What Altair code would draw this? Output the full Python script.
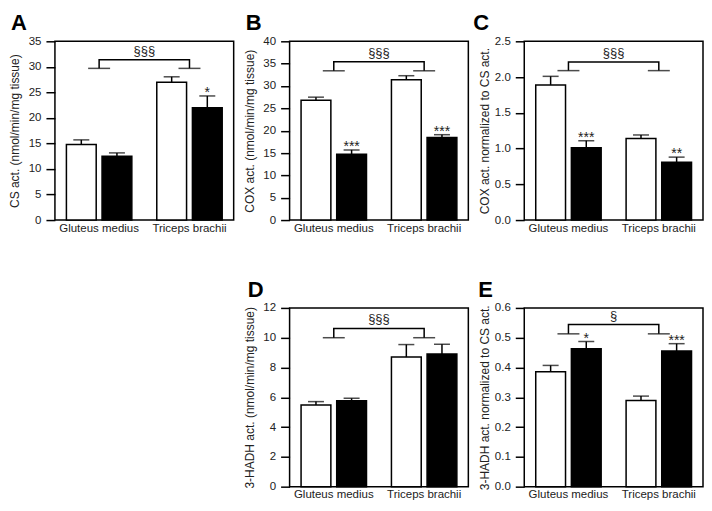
import altair as alt
import pandas as pd

# ---------------- data ----------------
MUSCLES = ["Gluteus medius", "Triceps brachii"]
GROUPS = ["Group 1", "Group 2"]          # open bars, filled bars

LETTERS = ["A", "B", "C", "D", "E"]
Y_TITLES = [
    "CS act. (nmol/min/mg tissue)",
    "COX act. (nmol/min/mg tissue)",
    "COX act. normalized to CS act.",
    "3-HADH act. (nmol/min/mg tissue)",
    "3-HADH act. normalized to CS act.",
]
Y_MAX = [35, 40, 2.5, 12, 0.6]
Y_TICKS = [
    [0, 5, 10, 15, 20, 25, 30, 35],
    [0, 5, 10, 15, 20, 25, 30, 35, 40],
    [0.0, 0.5, 1.0, 1.5, 2.0, 2.5],
    [0, 2, 4, 6, 8, 10, 12],
    [0.0, 0.1, 0.2, 0.3, 0.4, 0.5, 0.6],
]
Y_FORMAT = ["d", "d", ".1f", "d", ".1f"]

# order: GM group1, GM group2, TB group1, TB group2
A_MEAN = [14.8, 12.5, 27.0, 22.0]
A_UPPER = [15.7, 13.15, 28.05, 24.3]
A_STARS = ["", "", "", "*"]

B_MEAN = [26.8, 14.7, 31.4, 18.5]
B_UPPER = [27.5, 15.7, 32.3, 19.1]
B_STARS = ["", "***", "", "***"]

C_MEAN = [1.89, 1.01, 1.14, 0.81]
C_UPPER = [2.01, 1.11, 1.19, 0.88]
C_STARS = ["", "***", "", "**"]

D_MEAN = [5.48, 5.77, 8.70, 8.90]
D_UPPER = [5.71, 5.93, 9.54, 9.56]
D_STARS = ["", "", "", ""]

E_MEAN = [0.386, 0.463, 0.289, 0.455]
E_UPPER = [0.407, 0.487, 0.304, 0.480]
E_STARS = ["", "*", "", "***"]

BRACKET_TOP = [31.4, 35.4, 2.21, 10.62, 0.544]
BRACKET_END = [29.7, 33.4, 2.09, 10.0, 0.513]
BRACKET_LABEL = ["§§§", "§§§", "§§§", "§§§", "§"]

MEANS = [A_MEAN, B_MEAN, C_MEAN, D_MEAN, E_MEAN]
UPPERS = [A_UPPER, B_UPPER, C_UPPER, D_UPPER, E_UPPER]
STARS = [A_STARS, B_STARS, C_STARS, D_STARS, E_STARS]

# ---------------- layout / style ----------------
W = 179
H = 179
PAD_INNER = 0.276
PAD_OUTER = 0.127
STEP = W / (2 - PAD_INNER + 2 * PAD_OUTER)
LETTER_DX = [-44, -44, -51, -42, -46]
FONT = "Liberation Sans"
TXT = "#222222"


def panel(i):
    rows = []
    for mi, m in enumerate(MUSCLES):
        for gi, g in enumerate(GROUPS):
            k = mi * 2 + gi
            rows.append(dict(muscle=m, group=g, mean=MEANS[i][k],
                             upper=UPPERS[i][k], star=STARS[i][k]))
    df = pd.DataFrame(rows)

    xscale = alt.Scale(domain=MUSCLES, paddingInner=PAD_INNER, paddingOuter=PAD_OUTER)
    xaxis = alt.Axis(title=None, labelAngle=0, ticks=False, tickSize=0, domain=False,
                     labelPadding=2, labelFontSize=11.5, labelColor=TXT)
    yscale = alt.Scale(domain=[0, Y_MAX[i]], nice=False, zero=True)
    yaxis = alt.Axis(title=Y_TITLES[i], values=Y_TICKS[i], format=Y_FORMAT[i],
                     tickSize=9, tickWidth=1.5, tickColor="black", labelPadding=5,
                     grid=False, domain=False, labelFontSize=11.5, labelColor=TXT,
                     titleFontSize=12, titleFontWeight="normal", titleColor=TXT,
                     titleAngle=270, titleBaseline="bottom", titleAlign="center",
                     titleX=-33, titleY=H / 2)
    x = alt.X("muscle:N", scale=xscale, axis=xaxis)
    xoff = alt.XOffset("group:N", scale=alt.Scale(domain=GROUPS, paddingInner=0.164,
                                                  paddingOuter=0))

    base = alt.Chart(df)
    bars = base.mark_bar(stroke="black", strokeWidth=1.5).encode(
        x=x, xOffset=xoff,
        y=alt.Y("mean:Q", scale=yscale, axis=yaxis),
        fill=alt.Fill("group:N", scale=alt.Scale(domain=GROUPS, range=["white", "black"]),
                      legend=None),
    )
    err = base.mark_rule(color="black", strokeWidth=1.5).encode(
        x=x, xOffset=xoff,
        y=alt.Y("mean:Q", scale=yscale, axis=yaxis), y2="upper:Q",
    )
    caps = base.mark_tick(color="black", size=16, thickness=1.5).encode(
        x=x, xOffset=xoff, y=alt.Y("upper:Q", scale=yscale, axis=yaxis),
    )
    stars = base.mark_text(fontSize=14, baseline="alphabetic", dy=1, color=TXT).encode(
        x=x, xOffset=xoff, y=alt.Y("upper:Q", scale=yscale, axis=yaxis), text="star:N",
    )

    # significance bracket
    br = pd.DataFrame({
        "muscle": [MUSCLES[0], MUSCLES[0], MUSCLES[1], MUSCLES[1]],
        "yv": [BRACKET_END[i], BRACKET_TOP[i], BRACKET_TOP[i], BRACKET_END[i]],
        "ord": [0, 1, 2, 3],
    })
    br_line = alt.Chart(br).mark_line(color="black", strokeWidth=1.5).encode(
        x=x, y=alt.Y("yv:Q", scale=yscale, axis=yaxis), order="ord:Q",
    )
    br_ends = alt.Chart(br[br["ord"].isin([0, 3])]).mark_tick(
        color="black", size=22, thickness=1.5).encode(
        x=x, y=alt.Y("yv:Q", scale=yscale, axis=yaxis),
    )
    lab = pd.DataFrame({"muscle": [MUSCLES[0]], "yv": [BRACKET_TOP[i]],
                        "label": [BRACKET_LABEL[i]]})
    br_text = alt.Chart(lab).mark_text(fontSize=13, baseline="alphabetic", dx=STEP / 2,
                                       dy=-5, color=TXT).encode(
        x=x, y=alt.Y("yv:Q", scale=yscale, axis=yaxis), text="label:N",
    )

    letter = alt.Chart(pd.DataFrame({"t": [LETTERS[i]]})).mark_text(
        align="left", baseline="alphabetic", fontSize=22, fontWeight="bold",
        color="black").encode(
        text="t:N", x=alt.value(LETTER_DX[i]), y=alt.value(-11),
    )

    return alt.layer(bars, err, caps, stars, br_line, br_ends, br_text, letter).properties(
        width=W, height=H)


blank = alt.Chart(pd.DataFrame({"v": [0]})).mark_point(opacity=0).encode(
    x=alt.value(0), y=alt.value(0)
).properties(width=W, height=H, view=alt.ViewBackground(stroke="transparent"))

charts = [panel(0), panel(1), panel(2), blank, panel(3), panel(4)]

chart = alt.concat(*charts, columns=3, spacing={"row": 88, "column": 56},
                   bounds="flush").properties(
    padding={"top": 3, "left": 0, "right": 0, "bottom": 0}
).configure(font=FONT).configure_view(stroke="black", strokeWidth=1.5)

chart.save("out.html", embed_options={"renderer": "svg", "actions": False})
